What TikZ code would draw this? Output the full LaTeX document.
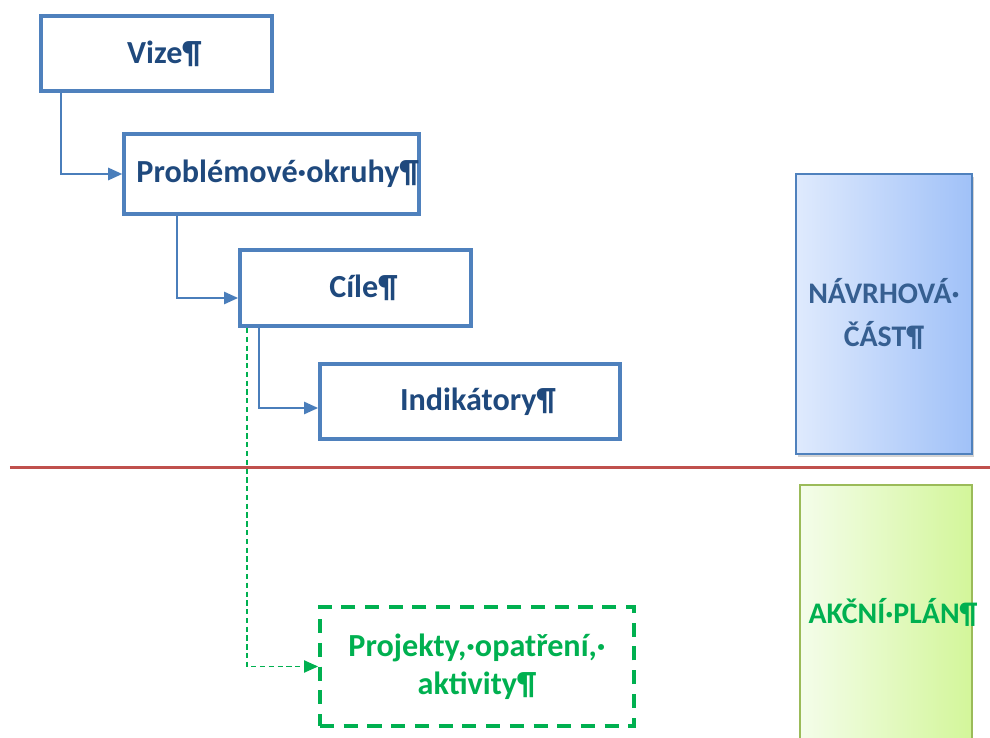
\documentclass[tikz,border=0pt]{standalone}
\usepackage{fontspec}
\setmainfont{Carlito}
\usetikzlibrary{arrows.meta,calc,shadows}

\definecolor{boxblue}{HTML}{4F81BD}
\definecolor{lineblue}{HTML}{4A7EBB}
\definecolor{textblue}{HTML}{1F497D}
\definecolor{slateblue}{HTML}{365F91}
\definecolor{planred}{HTML}{C0504D}
\definecolor{akcgreen}{HTML}{00B050}
\definecolor{lightgreen}{HTML}{9BBB59}
\definecolor{navrhleft}{HTML}{DFEAFD}
\definecolor{navrhright}{HTML}{A0C1F8}
\definecolor{akcnileft}{HTML}{F4FDEA}
\definecolor{akcniright}{HTML}{D3F69A}

\begin{document}
\begin{tikzpicture}[
	stupen/.style={draw=boxblue, line width=2.2pt, rectangle, text=textblue, font=\fontsize{18.3}{21.5}\selectfont\bfseries},
	posun/.style={execute at begin node={\hspace*{#1}}},
	posun/.default=9pt,
	sipka/.style={draw=lineblue, line width=1.1pt, -{Triangle[length=8pt,width=7pt]}},
	cast/.style={rectangle, line width=1.1pt, font=\fontsize{17}{24}\selectfont\bfseries, align=center}
]
	\useasboundingbox (0,0) rectangle (19.8,-14.76);
	\node[stupen, posun, minimum width=4.62cm, minimum height=1.5cm] (vize) at (3.13,-1.07) {Vize¶};
	\node[stupen, posun=7pt, inner xsep=0pt, minimum width=5.86cm, minimum height=1.6cm] (okruhy) at (5.43,-3.48) {Problémové·okruhy¶};
	\node[stupen, posun, minimum width=4.62cm, minimum height=1.52cm] (cile) at (7.11,-5.76) {Cíle¶};
	\node[stupen, posun, minimum width=6cm, minimum height=1.5cm] (indikatory) at (9.40,-8.03) {Indikátory¶};
	\node[stupen, draw=akcgreen, text=akcgreen, dash pattern=on 8pt off 5.5pt, minimum width=6.28cm, minimum height=2.38cm, align=center] (projekty) at (9.54,-13.33) {Projekty,·opatření,·\\aktivity¶};
	\draw[sipka] ($(vize.south west)+(0.44,0)$) |- (okruhy.west);
	\draw[sipka] ($(okruhy.south west)+(1.1,0)$) |- ($(cile.west)+(0,-0.2)$);
	\draw[sipka] ($(cile.south west)+(0.42,0)$) |- ($(indikatory.west)+(0,-0.13)$);
	\draw[sipka, draw=akcgreen, line width=0.8pt, dash pattern=on 3pt off 2pt] ($(cile.south west)+(0.18,0)$) |- (projekty.west);
	\draw[planred, line width=2pt] (0.2,-9.35) coordinate (delici) -- (19.8,-9.35) coordinate (delicikonec);
	\node[cast, draw=boxblue, left color=navrhleft, right color=navrhright, text=slateblue, drop shadow={opacity=0.35, shadow xshift=1pt, shadow yshift=-1.5pt}, minimum width=3.52cm, minimum height=5.6cm] (navrh) at (17.68,-6.28) {NÁVRHOVÁ·\\ČÁST¶};
	\node[cast, draw=lightgreen, left color=akcnileft, right color=akcniright, minimum width=3.44cm, minimum height=6.3cm] (akcni) at (17.72,-12.85) {};
	\node[cast, text=akcgreen] (akcnitext) at (17.86,-12.24) {AKČNÍ·PLÁN¶};
\end{tikzpicture}
\end{document}
